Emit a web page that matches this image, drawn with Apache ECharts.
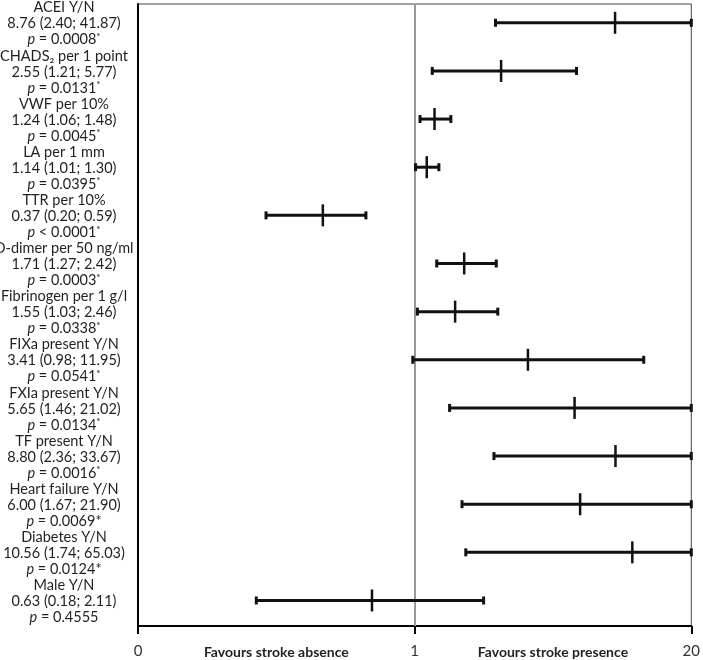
<!DOCTYPE html>
<html>
<head>
<meta charset="utf-8">
<script src="https://cdn.jsdelivr.net/npm/echarts@6/dist/echarts.min.js"></script>
<style>
  html, body { margin: 0; padding: 0; background: #fff; }
  #chart { width: 703px; height: 660px; }
</style>
</head>
<body>
<div id="chart"></div>
<script>
// ---- data ----
const names = ['ACEI Y/N', 'CHADS₂ per 1 point', 'VWF per 10%', 'LA per 1 mm', 'TTR per 10%',
  'D-dimer per 50 ng/ml', 'Fibrinogen per 1 g/l', 'FIXa present Y/N', 'FXIa present Y/N',
  'TF present Y/N', 'Heart failure Y/N', 'Diabetes Y/N', 'Male Y/N'];
const orValues = [8.76, 2.55, 1.24, 1.14, 0.37, 1.71, 1.55, 3.41, 5.65, 8.80, 6.00, 10.56, 0.63];
const ciLow  = [2.40, 1.21, 1.06, 1.01, 0.20, 1.27, 1.03, 0.98, 1.46, 2.36, 1.67, 1.74, 0.18];
const ciHigh = [41.87, 5.77, 1.48, 1.30, 0.59, 2.42, 2.46, 11.95, 21.02, 33.67, 21.90, 65.03, 2.11];
const orText = ['8.76 (2.40; 41.87)', '2.55 (1.21; 5.77)', '1.24 (1.06; 1.48)', '1.14 (1.01; 1.30)',
  '0.37 (0.20; 0.59)', '1.71 (1.27; 2.42)', '1.55 (1.03; 2.46)', '3.41 (0.98; 11.95)',
  '5.65 (1.46; 21.02)', '8.80 (2.36; 33.67)', '6.00 (1.67; 21.90)', '10.56 (1.74; 65.03)',
  '0.63 (0.18; 2.11)'];
const pText = ['= 0.0008', '= 0.0131', '= 0.0045', '= 0.0395', '< 0.0001', '= 0.0003', '= 0.0338',
  '= 0.0541', '= 0.0134', '= 0.0016', '= 0.0069', '= 0.0124', '= 0.4555'];
const starKind = ['sup', 'sup', 'sup', 'sup', 'sup', 'sup', 'sup', 'sup', 'sup', 'sup', 'plain', 'plain', 'none'];
const xTickValues = [0.05, 1, 20];
const xTickLabels = ['0', '1', '20'];
const sideLabels = ['Favours stroke absence', 'Favours stroke presence'];
const refValue = 1;

const X_MIN = xTickValues[0], X_MAX = xTickValues[2];
const FONT = 'Lato, "Noto Sans", sans-serif';
const TXT = '#231f20';
const FS = 14.5;

const seriesData = orValues.map((v, i) => [v, i, ciLow[i], ciHigh[i]]);

function labelText(i) {
  let star = '';
  if (starKind[i] === 'sup') star = '{sup|*}';
  else if (starKind[i] === 'plain') star = '*';
  return names[i] + '\n' + orText[i] + '\n{it|p} ' + pText[i] + star;
}

const chart = echarts.init(document.getElementById('chart'), null, { renderer: 'canvas' });

const option = {
  animation: false,
  backgroundColor: '#fff',
  grid: { left: 138, right: 10, top: 4, bottom: 34, show: true, borderColor: '#444', borderWidth: 1 },
  xAxis: {
    type: 'log',
    logBase: 20,
    min: X_MIN,
    max: X_MAX,
    interval: 1,
    axisLine: { show: true, onZero: false, lineStyle: { color: '#000', width: 2 } },
    axisTick: { show: true, length: 8, lineStyle: { color: '#000', width: 2 } },
    axisLabel: {
      margin: 18, fontSize: 15, color: '#333', fontFamily: FONT,
      formatter: function (v) {
        let best = 0, bd = Infinity;
        xTickValues.forEach((t, k) => { const d = Math.abs(Math.log(v) - Math.log(t)); if (d < bd) { bd = d; best = k; } });
        return xTickLabels[best];
      }
    },
    splitLine: { show: false },
    minorTick: { show: false }
  },
  yAxis: {
    type: 'value',
    inverse: true,
    min: -0.39,
    max: 12.53,
    axisLine: { show: true, onZero: false, lineStyle: { color: '#000', width: 2 } },
    axisTick: { show: false },
    axisLabel: { show: false },
    splitLine: { show: false }
  },
  series: [{
    type: 'custom',
    clip: false,
    data: seriesData,
    encode: { x: 0, y: 1 },
    markLine: {
      silent: true,
      symbol: 'none',
      label: { show: false },
      lineStyle: { color: '#999', width: 2, type: 'solid' },
      data: [{ xAxis: refValue }],
      z: 1
    },
    renderItem: function (params, api) {
      const i = api.value(1);
      const or = api.value(0);
      const lo = Math.max(api.value(2), X_MIN);
      const hi = Math.min(api.value(3), X_MAX);
      const pc = api.coord([or, i]);
      const pl = api.coord([lo, i]);
      const ph = api.coord([hi, i]);
      const y = pc[1];
      const black = '#111';
      const gx = params.coordSys.x;
      return {
        type: 'group',
        children: [
          { type: 'line', shape: { x1: pl[0], y1: y, x2: ph[0], y2: y }, style: { stroke: black, lineWidth: 3 } },
          { type: 'line', shape: { x1: pl[0], y1: y - 4, x2: pl[0], y2: y + 4 }, style: { stroke: black, lineWidth: 3 } },
          { type: 'line', shape: { x1: ph[0], y1: y - 4, x2: ph[0], y2: y + 4 }, style: { stroke: black, lineWidth: 3 } },
          { type: 'line', shape: { x1: pc[0], y1: y - 11, x2: pc[0], y2: y + 11 }, style: { stroke: black, lineWidth: 2.5 } },
          {
            type: 'text',
            x: gx - 74,
            y: y + 1,
            style: {
              text: labelText(i),
              align: 'center',
              verticalAlign: 'middle',
              font: FS + 'px ' + FONT,
              fontSize: FS,
              fontFamily: FONT,
              fill: TXT,
              lineHeight: 16,
              rich: {
                it: { fontStyle: 'italic', fontSize: FS, fontFamily: FONT, fill: TXT, lineHeight: 16 },
                sup: { fontSize: 10, fontFamily: FONT, fill: TXT, verticalAlign: 'top', lineHeight: 16 }
              }
            }
          }
        ]
      };
    }
  }]
};

chart.setOption(option);

const xa = chart.convertToPixel({ xAxisIndex: 0 }, Math.sqrt(X_MIN * refValue));
const xb = chart.convertToPixel({ xAxisIndex: 0 }, Math.sqrt(refValue * X_MAX));
chart.setOption({
  graphic: [
    { type: 'text', x: xa, y: 652, style: { text: sideLabels[0], align: 'center', verticalAlign: 'middle', font: 'bold 14px ' + FONT, fill: TXT } },
    { type: 'text', x: xb, y: 652, style: { text: sideLabels[1], align: 'center', verticalAlign: 'middle', font: 'bold 14px ' + FONT, fill: TXT } }
  ]
});
</script>
</body>
</html>
